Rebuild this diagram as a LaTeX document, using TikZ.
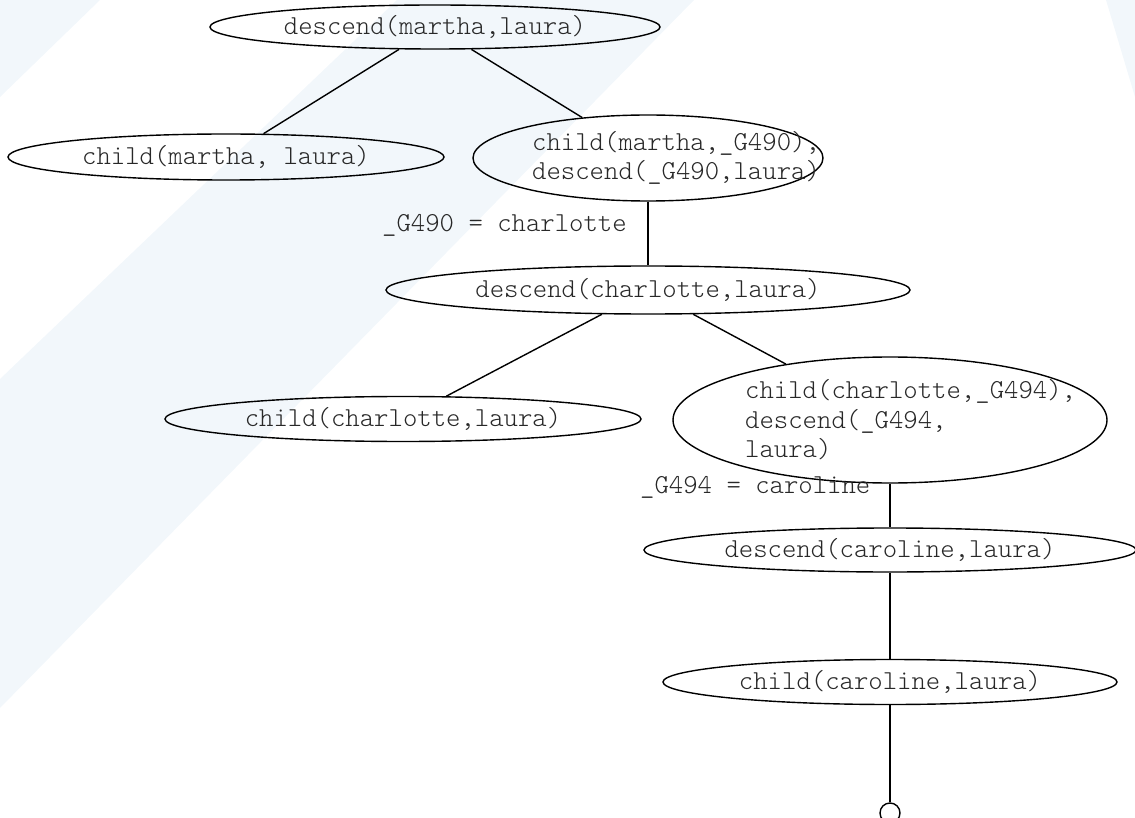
\documentclass[tikz,border=0pt]{standalone}
\usepackage{fontspec}
\setmonofont{Latin Modern Mono Light}
\usetikzlibrary{positioning,shapes.geometric}
\definecolor{slidebg}{RGB}{242,247,251}
\definecolor{goalink}{RGB}{40,40,40}

\begin{document}
\begin{tikzpicture}[x=1pt,y=-1pt,
        goalnode/.style={ellipse, draw=black, line width=1.4pt, inner sep=0pt, text=goalink},
        goaltext/.style={inner sep=0pt, align=left, anchor=west, text=goalink},
        bindlabel/.style={inner sep=0pt, anchor=west, text=goalink},
        font=\ttfamily\fontsize{27.4}{29.5}\selectfont]
        \useasboundingbox (0,0) rectangle (1135,818);
        % slide background
        \fill[slidebg] (0,0) -- (100,0) -- (0,97) -- cycle;
        \fill[slidebg] (397,0) -- (694,0) -- (0,708) -- (0,379) -- cycle;
        \fill[slidebg] (1106,0) -- (1135,0) -- (1135,97) -- cycle;
        % goals
        \node[goalnode, minimum width=450pt, minimum height=44pt] (descmartha) at (435,27) {descend(martha,laura)};
        \node[goalnode, minimum width=436pt, minimum height=46pt] (childmartha) at (226,157) {child(martha, laura)};
        \node[goalnode, minimum width=350pt, minimum height=86pt] (conjone) at (648,158) {};
        \node[goaltext] (conjonetext) at (532,158) {child(martha,\_G490),\\descend(\_G490,laura)};
        \node[goalnode, minimum width=524pt, minimum height=48pt] (descchar) at (648,290) {descend(charlotte,laura)};
        \node[goalnode, minimum width=476pt, minimum height=45pt] (childchar) at (403,419) {child(charlotte,laura)};
        \node[goalnode, minimum width=434pt, minimum height=126pt] (conjtwo) at (890,420) {};
        \node[goaltext] (conjtwotext) at (745,420) {child(charlotte,\_G494),\\descend(\_G494,\\laura)};
        \node[goalnode, minimum width=492pt, minimum height=44pt] (desccaro) at (890,550) {descend(caroline,laura)};
        \node[goalnode, minimum width=454pt, minimum height=45pt] (childcaro) at (890,682) {child(caroline,laura)};
        \node[circle, draw=black, line width=1.4pt, inner sep=0pt, minimum size=20pt] (success) at (890,813) {};
        % bindings
        \node[bindlabel] (bindone) at (382,225) {\_G490 = charlotte};
        \node[bindlabel] (bindtwo) at (640,487) {\_G494 = caroline};
        % branches
        \draw[line width=1.4pt] (descmartha) -- (childmartha);
        \draw[line width=1.4pt] (descmartha) -- (conjone);
        \draw[line width=1.4pt] (conjone) -- (descchar);
        \draw[line width=1.4pt] (descchar) -- (childchar);
        \draw[line width=1.4pt] (descchar) -- (conjtwo);
        \draw[line width=1.4pt] (conjtwo) -- (desccaro);
        \draw[line width=1.4pt] (desccaro) -- (childcaro);
        \draw[line width=1.4pt] (childcaro) -- (success);
\end{tikzpicture}
\end{document}
